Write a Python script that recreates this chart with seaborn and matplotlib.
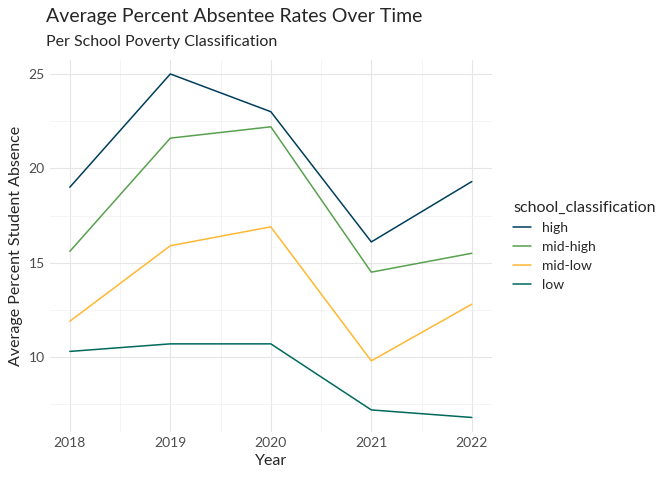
import matplotlib
matplotlib.use("Agg")
import matplotlib.pyplot as plt
import pandas as pd
import seaborn as sns
from matplotlib.ticker import MultipleLocator

years = [2018, 2019, 2020, 2021, 2022]
high = [19.0, 25.0, 23.0, 16.1, 19.3]
mid_high = [15.6, 21.6, 22.2, 14.5, 15.5]
mid_low = [11.9, 15.9, 16.9, 9.8, 12.8]
low = [10.3, 10.7, 10.7, 7.2, 6.8]
classes = ["high", "mid-high", "mid-low", "low"]
colors = ["#003f5c", "#58a14e", "#ffb833", "#00695c"]

rows = []
for name, vals in zip(classes, [high, mid_high, mid_low, low]):
    for y, v in zip(years, vals):
        rows.append({"Year": y, "value": v, "school_classification": name})
df = pd.DataFrame(rows)

sns.set_theme(style="whitegrid")
plt.rcParams["font.family"] = ["Lato", "DejaVu Sans"]

fig = plt.figure(figsize=(6.72, 4.8), dpi=100)
ax = fig.add_axes([0.074, 0.10, 0.658, 0.775])
sns.lineplot(data=df, x="Year", y="value", hue="school_classification",
             hue_order=classes, palette=colors, linewidth=1.1, ax=ax)

ax.set_xlim(2017.8, 2022.2)
ax.set_ylim(6.03, 25.74)
ax.set_xticks(years)
ax.yaxis.set_major_locator(MultipleLocator(5))
ax.yaxis.set_minor_locator(MultipleLocator(2.5))
ax.xaxis.set_minor_locator(MultipleLocator(0.5))
ax.grid(which="major", color="#e6e6e6", linewidth=0.8)
ax.grid(which="minor", color="#f0f0f0", linewidth=0.5)
for s in ax.spines.values():
    s.set_visible(False)
ax.tick_params(length=0, labelsize=10, colors="#4d4d4d")
ax.set_xlabel("Year", fontsize=11.5)
ax.set_ylabel("Average Percent Student Absence", fontsize=11.5)

leg = ax.legend(title="school_classification", loc="center left",
                bbox_to_anchor=(1.02, 0.5), frameon=False, fontsize=10,
                title_fontsize=11.5, handlelength=1.3)
leg._legend_box.align = "left"

fig.text(0.068, 0.955, "Average Percent Absentee Rates Over Time", fontsize=14)
fig.text(0.068, 0.905, "Per School Poverty Classification", fontsize=11.5)

fig.savefig("out.png", dpi=100)
